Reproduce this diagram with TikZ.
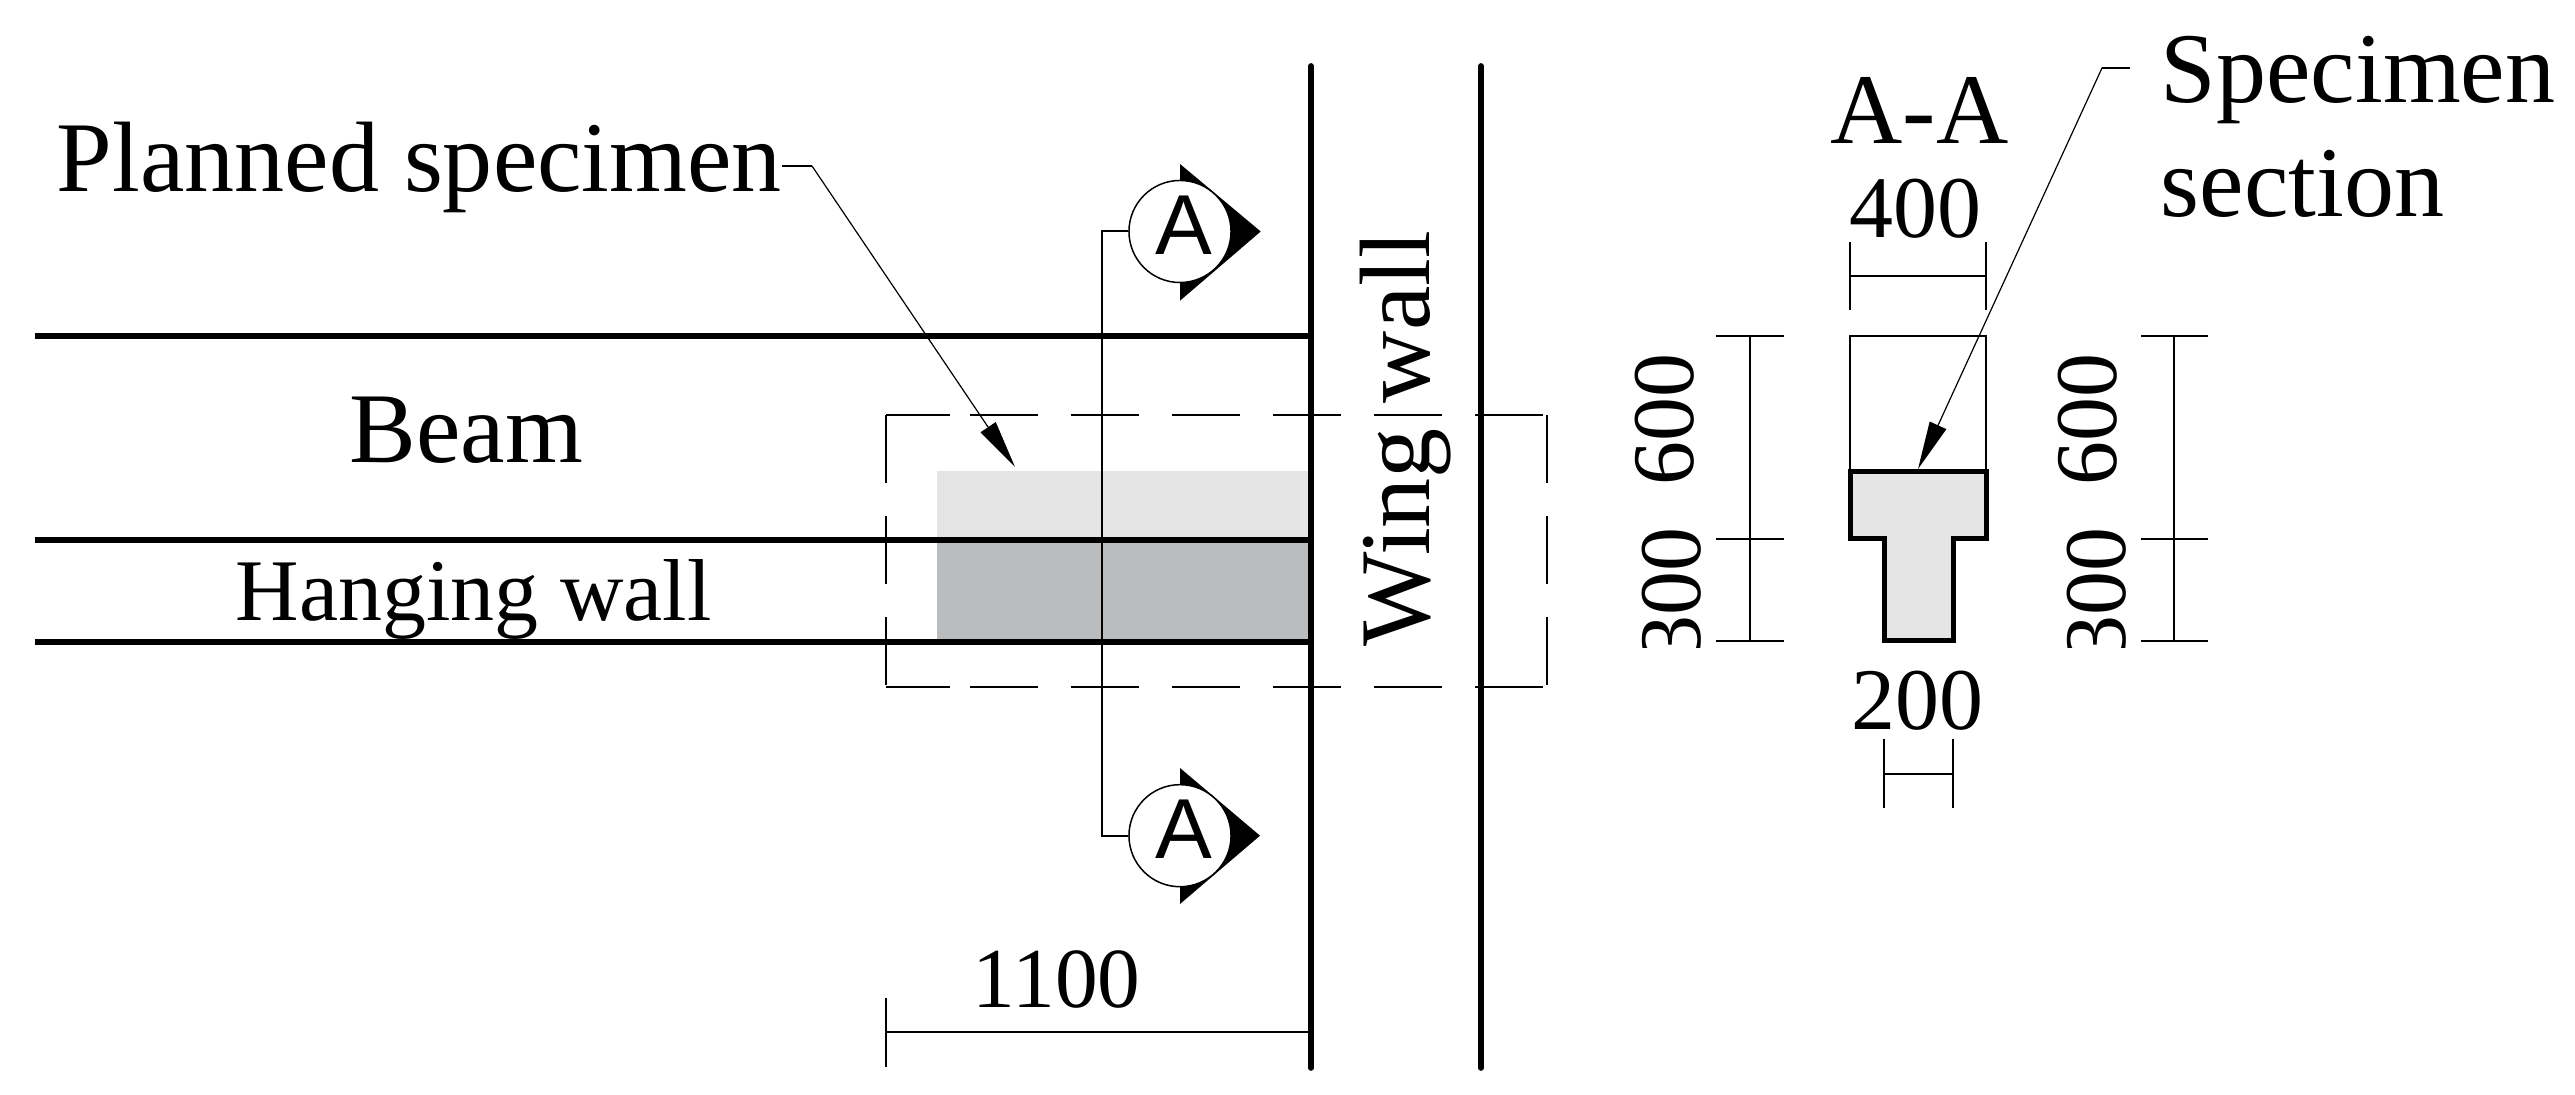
\documentclass[tikz,border=0pt]{standalone}
\usepackage{fontspec}
\setmainfont{Liberation Serif}
\newfontfamily\symbfont{Liberation Sans}
\usetikzlibrary{arrows.meta}
\begin{document}
\begin{tikzpicture}[x=0.01cm,y=-0.01cm,
	bigtext/.style = {anchor = base west, inner sep = 0pt, font = \fontsize{28.45}{34}\selectfont},
	dimtext/.style = {anchor = base west, inner sep = 0pt, font = \fontsize{25}{30}\selectfont},
	heavy/.style = {line width = 0.057cm},
	wall/.style = {line width = 0.057cm, line cap = round},
	outline/.style = {line width = 0.05cm, line join = miter, fill = specgray},
	dimline/.style = {line width = 0.013cm},
	leader/.style = {line width = 0.012cm, -{Triangle[length = 0.48cm, width = 0.18cm]}},
	cuth/.style = {line width = 0.015cm, dash pattern = on 0.64cm off 0.20cm on 0.68cm off 0.33cm on 0.68cm off 0.33cm on 0.68cm off 0.33cm on 0.68cm off 0.33cm on 0.68cm off 0.33cm on 0.68cm off 0.33cm},
	cutv/.style = {line width = 0.015cm, dash pattern = on 0.68cm off 0.33cm},
	bubble/.style = {circle, draw, fill = white, line width = 0.015cm, minimum size = 1.02cm, inner sep = 0pt, text depth = 0.12cm, font = \symbfont\fontsize{24.2}{29}\selectfont},
	]
	\definecolor{specgray}{HTML}{E5E5E5}
	\definecolor{wallgray}{HTML}{BBBCBE}
	\useasboundingbox (0,0) rectangle (2575,1095);
	% shaded specimen
	\fill[specgray] (937,471) rectangle (1311,540);
	\fill[wallgray] (937,540) rectangle (1311,642);
	% beam and walls
	\coordinate (BeamTopL) at (35,336);
	\coordinate (BeamTopR) at (1311,336);
	\coordinate (BeamMidL) at (35,540);
	\coordinate (BeamMidR) at (1311,540);
	\coordinate (BeamBotL) at (35,642);
	\coordinate (BeamBotR) at (1311,642);
	\draw[heavy] (BeamTopL) -- (BeamTopR);
	\draw[heavy] (BeamMidL) -- (BeamMidR);
	\draw[heavy] (BeamBotL) -- (BeamBotR);
	\draw[wall] (1311,66) -- (1311,1068);
	\draw[wall] (1481,66) -- (1481,1068);
	% cut region
	\draw[cuth] (886,415) -- (1547,415);
	\draw[cuth] (886,687) -- (1547,687);
	\draw[cutv] (886,415) -- (886,687);
	\draw[cutv] (1547,415) -- (1547,687);
	% section mark
	\draw[fill = black, draw = none] (1180,164) -- (1260.7,231.5) -- (1180,300.7) -- cycle;
	\draw[fill = black, draw = none] (1180,768) -- (1260,835.7) -- (1180,904) -- cycle;
	\node (SecTop) at (1180,231.5)	[bubble]	{\hspace{0.08cm}A};
	\node (SecBot) at (1180,835.7)	[bubble]	{\hspace{0.08cm}A};
	\coordinate (SecMid) at (1102,533);
	\draw[line width = 0.02cm] (SecTop.west) -| (SecMid) |- (SecBot.west);
	% left labels
	\node (Planned) at (56,192)	[bigtext]	{Planned specimen};
	\node (Beam) at (349,463)	[bigtext]	{Beam};
	\node (Hanging) at (235,621)	[dimtext]	{Hanging wall};
	\node (Wing) at (1429,647)	[bigtext, rotate = 90]	{Wing wall};
	\coordinate (PlanA) at (782,166);
	\coordinate (PlanB) at (812,166);
	\coordinate (PlanTip) at (1015,467);
	\draw[line width = 0.012cm] (PlanA) -- (PlanB);
	\draw[leader] (PlanB) -- (PlanTip);
	% overall dimension
	\node (DimLong) at (972,1008)	[dimtext, font = \fontsize{24.3}{29}\selectfont]	{1100};
	\draw[line width = 0.018cm] (886,998) -- (886,1067);
	\draw[line width = 0.018cm] (886,1032) -- (1311,1032);
	% section A-A
	\node (SecTitle) at (1830,144)	[bigtext]	{A-A};
	\draw[dimline] (1850,336) rectangle (1986,470);
	\draw[outline] (1850,472) -- (1986,472) -- (1986,539) -- (1953,539) -- (1953,641) -- (1884,641) -- (1884,539) -- (1850,539) -- cycle;
	\node (DimTop) at (1849,238)	[dimtext]	{400};
	\draw[dimline] (1850,242) -- (1850,310);
	\draw[dimline] (1986,242) -- (1986,310);
	\draw[dimline] (1850,276) -- (1986,276);
	\node (DimBot) at (1851,730)	[dimtext]	{200};
	\draw[dimline] (1884,739) -- (1884,808);
	\draw[dimline] (1953,739) -- (1953,808);
	\draw[dimline] (1884,774) -- (1953,774);
	% height dimensions
	\node (LeftSix) at (1693,486)	[dimtext, rotate = 90]	{600};
	\node (RightSix) at (2116,486)	[dimtext, rotate = 90]	{600};
	\begin{scope}
		\clip (1600,500) rectangle (2200,648);
		\node (LeftThree) at (1700,660)	[dimtext, rotate = 90]	{300};
		\node (RightThree) at (2125,660)	[dimtext, rotate = 90]	{300};
	\end{scope}
	\draw[dimline] (1716,336) -- (1784,336);
	\draw[dimline] (1716,539) -- (1784,539);
	\draw[dimline] (1716,641) -- (1784,641);
	\draw[dimline] (1750,336) -- (1750,641);
	\draw[dimline] (2141,336) -- (2208,336);
	\draw[dimline] (2141,539) -- (2208,539);
	\draw[dimline] (2141,641) -- (2208,641);
	\draw[dimline] (2174,336) -- (2174,641);
	% specimen section label
	\node (SpecOne) at (2160,103)	[bigtext]	{Specimen};
	\node (SpecTwo) at (2160,217)	[bigtext]	{section};
	\coordinate (SpecA) at (2130,68);
	\coordinate (SpecB) at (2102,68);
	\coordinate (SpecTip) at (1918,469);
	\draw[line width = 0.012cm] (SpecA) -- (SpecB);
	\draw[leader] (SpecB) -- (SpecTip);
\end{tikzpicture}
\end{document}
